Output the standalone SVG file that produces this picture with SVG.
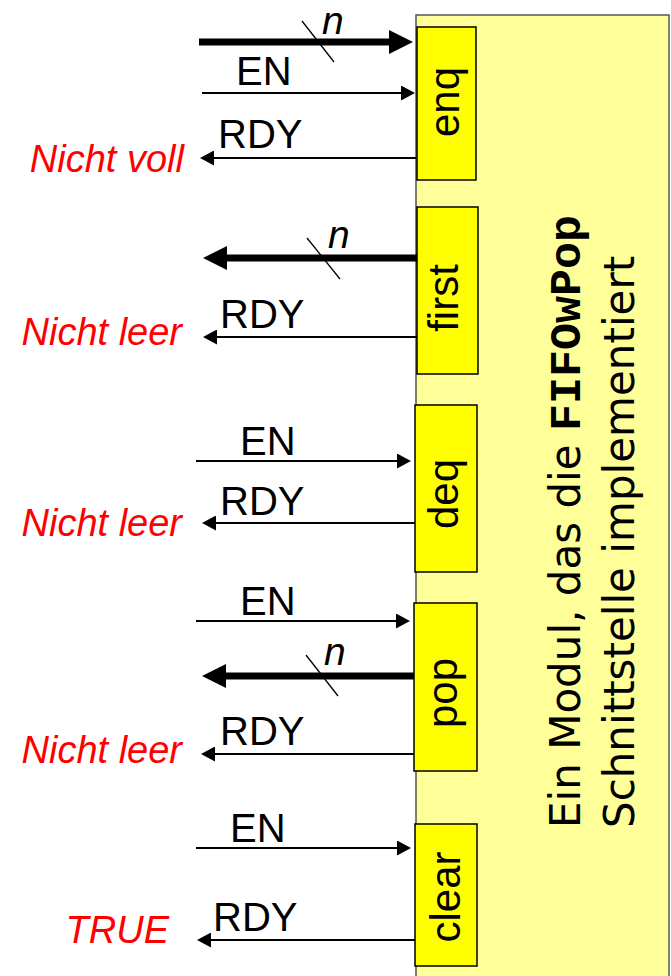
<svg xmlns="http://www.w3.org/2000/svg" width="671" height="976" viewBox="0 0 671 976">
<style>
.lbl{font-family:"Liberation Sans",Arial,sans-serif;font-size:40px;fill:#000}
.red{font-family:"Liberation Sans",Arial,sans-serif;font-size:38px;font-style:italic;fill:#FF0000;text-anchor:end}
.n{font-family:"Liberation Sans",Arial,sans-serif;font-size:39px;font-style:italic;fill:#000}
.box{fill:#FFFF00;stroke:#000;stroke-width:1.5}
.bl{font-family:"Liberation Sans",Arial,sans-serif;font-size:42px;fill:#000;text-anchor:middle}
.thin{stroke:#000;stroke-width:2;fill:none;marker-end:url(#ah)}
.thick{stroke:#000;stroke-width:7;fill:none;marker-end:url(#ahT)}
.sl{stroke:#000;stroke-width:1.3}
.mt{font-family:"DejaVu Sans",Verdana,sans-serif;font-size:42px;fill:#000}
.mono{font-family:"Liberation Mono","Courier New",monospace;font-weight:bold;font-size:45px}
</style>
<defs>
<marker id="ah" markerUnits="userSpaceOnUse" markerWidth="14" markerHeight="15" refX="7" refY="7.5" orient="auto"><path d="M0,0 L14,7.5 L0,15 z" fill="#000"/></marker>
<marker id="ahT" markerUnits="userSpaceOnUse" markerWidth="24" markerHeight="24" refX="12" refY="12" orient="auto"><path d="M0,0 L24,12 L0,24 z" fill="#000"/></marker>
</defs>
<g id="module">
<rect x="416" y="15" width="253" height="990" fill="#FFFF99" stroke="#555" stroke-width="1.5"/>
<text class="mt" transform="translate(580,828) rotate(-90)">Ein Modul, das die <tspan class="mono">FIFOwPop</tspan></text>
<text class="mt" transform="translate(634,828) rotate(-90)">Schnittstelle implementiert</text>
</g>
<g id="connectors">
<line class="thick" x1="199" y1="42" x2="401" y2="42"/>
<line class="sl" x1="302" y1="21" x2="334" y2="62"/>
<line class="thin" x1="202" y1="93" x2="408" y2="93"/>
<line class="thin" x1="416" y1="158" x2="207" y2="158"/>
<line class="thick" x1="417" y1="258" x2="215" y2="258"/>
<line class="sl" x1="307" y1="238" x2="340" y2="279"/>
<line class="thin" x1="417" y1="337" x2="210" y2="337"/>
<line class="thin" x1="196" y1="461" x2="404" y2="461"/>
<line class="thin" x1="416" y1="523" x2="209" y2="523"/>
<line class="thin" x1="196" y1="621" x2="403" y2="621"/>
<line class="thick" x1="414" y1="676" x2="214" y2="676"/>
<line class="sl" x1="306" y1="655" x2="338" y2="696"/>
<line class="thin" x1="416" y1="754" x2="208" y2="754"/>
<line class="thin" x1="196" y1="848" x2="404" y2="848"/>
<line class="thin" x1="415" y1="940" x2="204" y2="940"/>
</g>
<g id="enq">
<rect class="box" x="417" y="27" width="59" height="153"/>
<text class="bl" transform="translate(459,102) rotate(-90)">enq</text>
<text class="n" x="322" y="34">n</text>
<text class="lbl" x="236" y="85">EN</text>
<text class="lbl" x="218" y="148">RDY</text>
<text class="red" x="184" y="172">Nicht voll</text>
</g>
<g id="first">
<rect class="box" x="417" y="207" width="61" height="167"/>
<text class="bl" transform="translate(458,298) rotate(-90)">first</text>
<text class="n" x="328" y="248">n</text>
<text class="lbl" x="220" y="328">RDY</text>
<text class="red" x="182" y="345">Nicht leer</text>
</g>
<g id="deq">
<rect class="box" x="415" y="405" width="62" height="167"/>
<text class="bl" transform="translate(458,494) rotate(-90)">deq</text>
<text class="lbl" x="240" y="455">EN</text>
<text class="lbl" x="220" y="515">RDY</text>
<text class="red" x="182" y="536">Nicht leer</text>
</g>
<g id="pop">
<rect class="box" x="414" y="603" width="63" height="168"/>
<text class="bl" transform="translate(457,693) rotate(-90)">pop</text>
<text class="lbl" x="240" y="615">EN</text>
<text class="n" x="324" y="665">n</text>
<text class="lbl" x="220" y="745">RDY</text>
<text class="red" x="182" y="763">Nicht leer</text>
</g>
<g id="clear">
<rect class="box" x="415" y="824" width="62" height="142"/>
<text class="bl" transform="translate(460,897) rotate(-90)">clear</text>
<text class="lbl" x="230" y="842">EN</text>
<text class="lbl" x="213" y="931">RDY</text>
<text class="red" x="169" y="943">TRUE</text>
</g>
</svg>
